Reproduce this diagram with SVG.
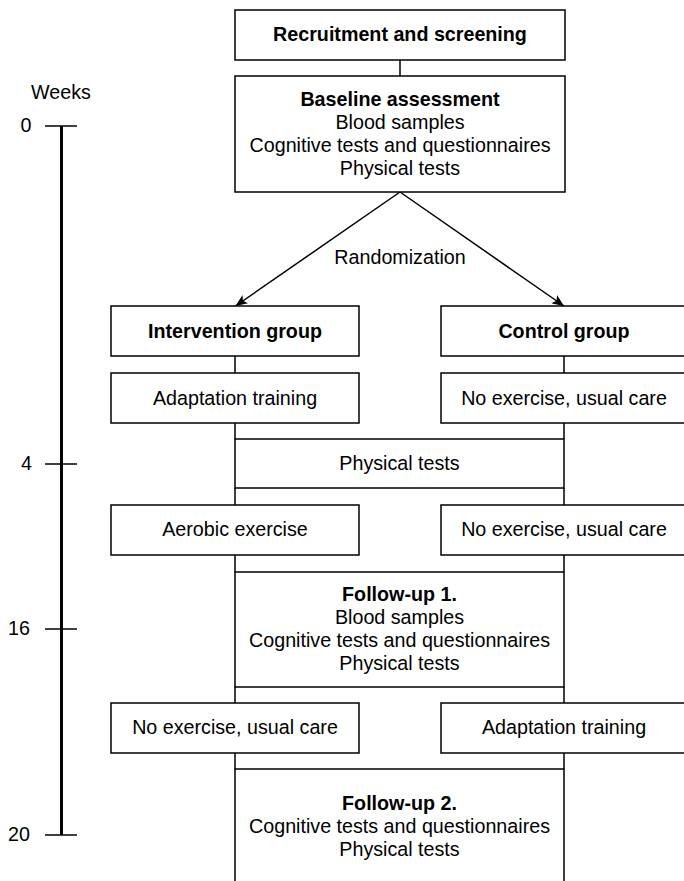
<svg xmlns="http://www.w3.org/2000/svg" width="684" height="881" viewBox="0 0 684 881">
<style>
  .box { fill: #fff; stroke: #000; stroke-width: 1.5; }
  .t { font-family: "Liberation Sans", Arial, Helvetica, sans-serif; font-size: 19.7px; fill: #000; text-anchor: middle; }
  .b { font-weight: bold; }
  .lbl { font-family: "Liberation Sans", Arial, Helvetica, sans-serif; font-size: 19.7px; fill: #000; text-anchor: end; }
  .c { stroke: #000; stroke-width: 1.5; fill: none; }
</style>
<defs>
  <marker id="arr" viewBox="0 0 12 10" refX="12" refY="5" markerWidth="12" markerHeight="10" markerUnits="userSpaceOnUse" orient="auto">
    <path d="M0,0 L12,5 L0,10 L3,5 Z" fill="#000"/>
  </marker>
</defs>
<rect width="684" height="881" fill="#fff"/>

<g id="timeline">
  <text class="t" x="61" y="99">Weeks</text>
  <line x1="61.5" y1="126" x2="61.5" y2="835" stroke="#000" stroke-width="3"/>
  <line x1="45" y1="126" x2="77" y2="126" class="c"/>
  <line x1="45" y1="464" x2="77" y2="464" class="c"/>
  <line x1="45" y1="629" x2="77" y2="629" class="c"/>
  <line x1="45" y1="835" x2="77" y2="835" class="c"/>
  <text class="lbl" x="31.5" y="132">0</text>
  <text class="lbl" x="32" y="470">4</text>
  <text class="lbl" x="30" y="635">16</text>
  <text class="lbl" x="30" y="841">20</text>
</g>

<g id="connectors">
  <line x1="400" y1="60" x2="400" y2="76" class="c"/>
  <line x1="400" y1="192" x2="235.5" y2="306" class="c" marker-end="url(#arr)"/>
  <line x1="400" y1="192" x2="564" y2="306" class="c" marker-end="url(#arr)"/>
  <line x1="235" y1="356" x2="235" y2="373" class="c"/>
  <line x1="564" y1="356" x2="564" y2="373" class="c"/>
  <line x1="235" y1="423" x2="235" y2="439" class="c"/>
  <line x1="564" y1="423" x2="564" y2="439" class="c"/>
  <line x1="235" y1="488" x2="235" y2="505" class="c"/>
  <line x1="564" y1="488" x2="564" y2="505" class="c"/>
  <line x1="235" y1="555" x2="235" y2="572" class="c"/>
  <line x1="564" y1="555" x2="564" y2="572" class="c"/>
  <line x1="235" y1="687" x2="235" y2="703" class="c"/>
  <line x1="564" y1="687" x2="564" y2="703" class="c"/>
  <line x1="235" y1="753" x2="235" y2="769" class="c"/>
  <line x1="564" y1="753" x2="564" y2="769" class="c"/>
  <text class="t" x="400" y="264">Randomization</text>
</g>

<g id="recruitment">
  <rect class="box" x="235" y="10" width="330" height="50"/>
  <text class="t b" x="400" y="41">Recruitment and screening</text>
</g>

<g id="baseline">
  <rect class="box" x="235" y="76" width="330" height="116"/>
  <text class="t b" x="400" y="106">Baseline assessment</text>
  <text class="t" x="400" y="129">Blood samples</text>
  <text class="t" x="400" y="152">Cognitive tests and questionnaires</text>
  <text class="t" x="400" y="175">Physical tests</text>
</g>

<g id="intervention">
  <rect class="box" x="111" y="306" width="248" height="50"/>
  <text class="t b" x="235" y="338">Intervention group</text>
</g>

<g id="control">
  <rect class="box" x="441" y="306" width="246" height="50"/>
  <text class="t b" x="564" y="338">Control group</text>
</g>

<g id="adapt1">
  <rect class="box" x="111" y="373" width="248" height="50"/>
  <text class="t" x="235" y="405">Adaptation training</text>
</g>

<g id="noex1">
  <rect class="box" x="441" y="373" width="246" height="50"/>
  <text class="t" x="564" y="405">No exercise, usual care</text>
</g>

<g id="phys">
  <rect class="box" x="235" y="439" width="329" height="49"/>
  <text class="t" x="399.5" y="470">Physical tests</text>
</g>

<g id="aerobic">
  <rect class="box" x="111" y="505" width="248" height="50"/>
  <text class="t" x="235" y="536">Aerobic exercise</text>
</g>

<g id="noex2">
  <rect class="box" x="441" y="505" width="246" height="50"/>
  <text class="t" x="564" y="536">No exercise, usual care</text>
</g>

<g id="followup1">
  <rect class="box" x="235" y="572" width="329" height="115"/>
  <text class="t b" x="399.5" y="601">Follow-up 1.</text>
  <text class="t" x="399.5" y="624">Blood samples</text>
  <text class="t" x="399.5" y="647">Cognitive tests and questionnaires</text>
  <text class="t" x="399.5" y="670">Physical tests</text>
</g>

<g id="noex3">
  <rect class="box" x="111" y="703" width="248" height="50"/>
  <text class="t" x="235" y="734">No exercise, usual care</text>
</g>

<g id="adapt2">
  <rect class="box" x="441" y="703" width="246" height="50"/>
  <text class="t" x="564" y="734">Adaptation training</text>
</g>

<g id="followup2">
  <rect class="box" x="235" y="769" width="329" height="130"/>
  <text class="t b" x="399.5" y="810">Follow-up 2.</text>
  <text class="t" x="399.5" y="833">Cognitive tests and questionnaires</text>
  <text class="t" x="399.5" y="856">Physical tests</text>
</g>
</svg>
